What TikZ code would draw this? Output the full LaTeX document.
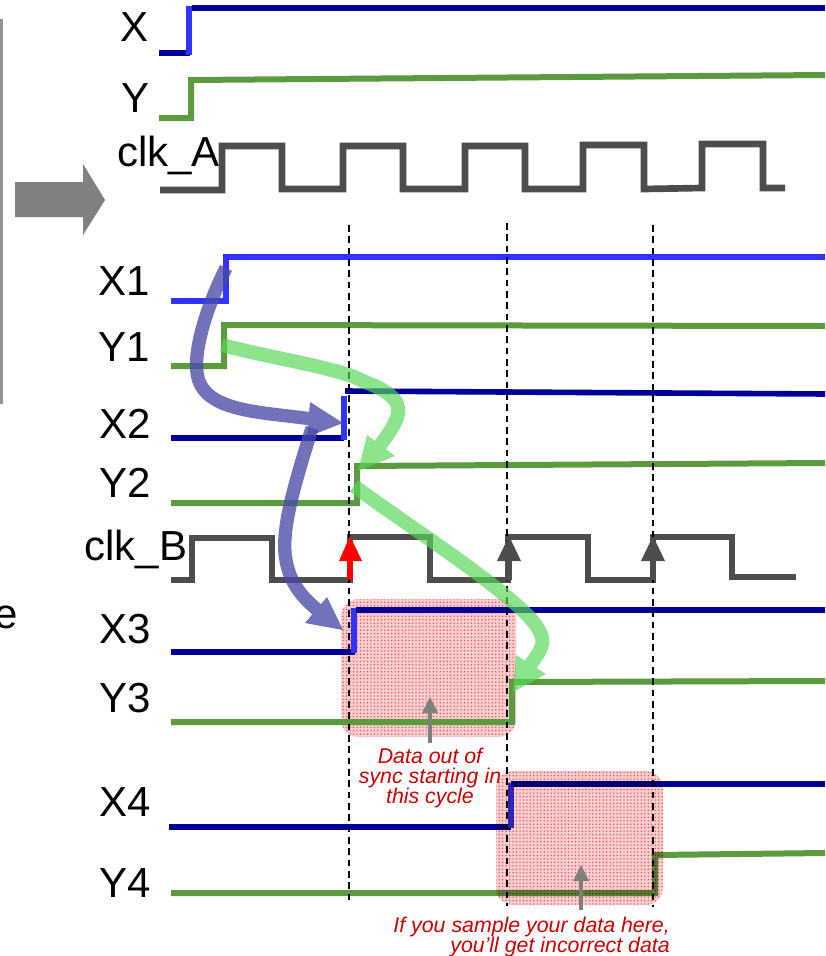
\documentclass[tikz,border=0pt]{standalone}
\usepackage{fontspec}
\usetikzlibrary{patterns.meta}
\setmainfont{Liberation Sans}
\definecolor{dkblue}{HTML}{000099}
\definecolor{brblue}{HTML}{3333FF}
\definecolor{sgreen}{HTML}{5B9A3F}
\definecolor{clkgray}{HTML}{4D4D4D}
\definecolor{arrgray}{HTML}{80807A}
\definecolor{pinkbase}{HTML}{F8CBCC}
\definecolor{pinkdot}{HTML}{E2606A}
\definecolor{ribblue}{HTML}{4A4AA8}
\definecolor{ribgreen}{HTML}{55D855}
\definecolor{notered}{HTML}{CC0000}
\tikzset{
  x=0.75pt,y=-0.75pt,
  siglabel/.style={font=\fontsize{31.5}{31.5}\selectfont,text=black,inner sep=0pt,anchor=base},
  darkline/.style={draw=dkblue,line width=4.2pt},
  brightline/.style={draw=brblue,line width=5pt},
  greenline/.style={draw=sgreen,line width=4.5pt,line join=miter},
  clockline/.style={draw=clkgray,line width=5pt,line join=miter},
  sampleline/.style={draw=black,line width=1.2pt,dash pattern=on 5pt off 3.5pt},
  pinkzone/.style={fill=pinkbase,draw=none,rounded corners=13pt,blend mode=multiply},
  pinkdots/.style={pattern={Dots[distance=2.6pt,radius=.55pt]},pattern color=pinkdot,draw=none,rounded corners=13pt,blend mode=multiply},
  notetext/.style={font=\fontsize{16}{15}\selectfont\itshape,text=notered,align=center,inner sep=0pt},
  ribblueline/.style={draw=ribblue,line width=10pt},
  ribgreenline/.style={draw=ribgreen,line width=10.5pt},
}
\begin{document}
\begin{tikzpicture}
\useasboundingbox (0,0) rectangle (825,956);
% left frame fragment and big arrow
\begin{scope}
\clip (0,0) rectangle (825,956);
\draw[draw=gray!85,line width=1.8pt] (-20,20) -- (1.5,20) -- (1.5,403) -- (-20,403);
\node[siglabel,anchor=base east] (clipped) at (18.5,628) {e};
\end{scope}
\fill[fill=gray] (15,182) -- (83,182) -- (83,164) -- (105,200) -- (83,235) -- (83,217) -- (15,217) -- cycle;
% labels
\node[siglabel] (lx) at (135,42) {X};
\node[siglabel] (ly) at (136,113) {Y};
\node[siglabel] (lca) at (168.5,166) {clk\_A};
\node[siglabel] (lx1) at (124,295) {X1};
\node[siglabel] (ly1) at (124,361) {Y1};
\node[siglabel] (lx2) at (125,438) {X2};
\node[siglabel] (ly2) at (125,497) {Y2};
\node[siglabel] (lcb) at (136,560) {clk\_B};
\node[siglabel] (lx3) at (125,643) {X3};
\node[siglabel] (ly3) at (125,712) {Y3};
\node[siglabel] (lx4) at (125,816) {X4};
\node[siglabel] (ly4) at (125,897) {Y4};
% first pink zone
\fill[pinkzone] (341,599) rectangle (516,737);
\fill[pinkdots] (341,599) rectangle (516,737);
% X, Y, clk_A
\draw[darkline] (159,53) -- (190,53);
\draw[darkline] (192,8) -- (825,8);
\draw[brightline] (189,55) -- (189,6);
\draw[greenline] (159,118) -- (191,118) -- (191,80) -- (825,75);
\draw[clockline] (160,190) -- (222,190) -- (222,146) -- (282,146) -- (282,189) -- (343,189) -- (343,146) -- (403,146) -- (403,189) -- (465,189) -- (465,146) -- (525,146) -- (525,189) -- (583,189) -- (583,145) -- (644,145) -- (644,189) -- (702,188) -- (702,144) -- (763,144) -- (763,188) -- (785,188);
% X1, Y1
\draw[brightline] (171,301) -- (226,301) -- (226,257);
\draw[brightline,line width=4.2pt] (223,257) -- (825,257);
\draw[greenline] (171,366) -- (224,366) -- (224,325) -- (825,326);
% X2, Y2
\draw[darkline] (171,438) -- (344,438);
\draw[brightline,line width=4.5pt] (344,440) -- (344,396);
\draw[darkline] (345,391) -- (825,394);
\draw[greenline] (171,503) -- (357,503) -- (357,466) -- (825,463);
% clk_B
\draw[clockline] (171,580) -- (192,580) -- (192,538) -- (272,538) -- (272,580) -- (350,580) -- (350,537) -- (430,537) -- (430,580) -- (508,580) -- (508,537) -- (588,537) -- (588,580) -- (653,580) -- (653,537) -- (732,537) -- (732,577) -- (796,577);
% X3, Y3
\draw[darkline] (171,652) -- (355,652);
\draw[brightline] (354,653) -- (354,608);
\draw[darkline] (356,610) -- (825,610);
\draw[greenline] (171,722) -- (512,722) -- (512,682) -- (825,681);
% X4, Y4
\draw[darkline] (169,827) -- (511,827);
\draw[brightline] (511,828) -- (511,783);
\draw[darkline] (511,784) -- (825,784);
\draw[greenline] (171,893) -- (655,893) -- (655,855) -- (825,853);
% second pink zone
\fill[pinkzone] (496,771) rectangle (663,905);
\fill[pinkdots] (496,771) rectangle (663,905);
% dashed sampling lines
\coordinate (s1t) at (349,225); \coordinate (s1b) at (349,903);
\coordinate (s2t) at (507,223); \coordinate (s2b) at (507,906);
\coordinate (s3t) at (653,225); \coordinate (s3b) at (653,907);
\draw[sampleline] (s1t) -- (s1b);
\draw[sampleline] (s2t) -- (s2b);
\draw[sampleline] (s3t) -- (s3b);
% clock edge arrows
\draw[draw=red,line width=4.5pt] (350,580) -- (350,555);
\fill[red] (350,536) -- (362,561) -- (339,561) -- cycle;
\draw[draw=clkgray,line width=4.5pt] (509,580) -- (509,555);
\fill[clkgray] (509,536) -- (521,561) -- (497,561) -- cycle;
\draw[draw=clkgray,line width=4.5pt] (653,580) -- (653,555);
\fill[clkgray] (653,536) -- (665,561) -- (641,561) -- cycle;
% ribbons
\begin{scope}[transparency group,opacity=.78]
\draw[ribblueline] (226,268) .. controls (205,310) and (192,355) .. (198,378) .. controls (207,412) and (262,412) .. (312,419);
\fill[ribblue] (343,423) -- (310,402) -- (307,437) -- cycle;
\end{scope}
\begin{scope}[transparency group,opacity=.78]
\draw[ribblueline] (312,428) .. controls (296,480) and (280,530) .. (286,560) .. controls (290,585) and (305,600) .. (320,612);
\fill[ribblue] (343,630) -- (327,597) -- (305,623) -- cycle;
\end{scope}
\begin{scope}[transparency group,opacity=.68]
\draw[ribgreenline] (222,345) .. controls (280,360) and (340,368) .. (365,382) .. controls (395,393) and (403,405) .. (396,420) .. controls (392,430) and (386,436) .. (380,446);
\fill[ribgreen] (358,471) -- (367,435) -- (395,456) -- cycle;
\end{scope}
\begin{scope}[transparency group,opacity=.68]
\draw[ribgreenline] (354,486) .. controls (400,520) and (470,565) .. (507,597) .. controls (530,615) and (548,635) .. (541,648) .. controls (537,656) and (534,660) .. (530,665);
\fill[ribgreen] (513,692) -- (516,655) -- (546,674) -- cycle;
\end{scope}
% note arrows
\draw[draw=arrgray,line width=3.7pt] (430,743) -- (430,712);
\fill[arrgray] (430,697) -- (438,713) -- (422,713) -- cycle;
\draw[draw=arrgray,line width=3.7pt] (581,910) -- (581,880);
\fill[arrgray] (581,865) -- (589,881) -- (573,881) -- cycle;
% notes
\node[notetext] (n1) at (430,778) {Data out of\\sync starting in\\this cycle};
\node[notetext,align=right,anchor=north east] (n2) at (670,917) {If you sample your data here,\\you’ll get incorrect data};
\end{tikzpicture}
\end{document}
